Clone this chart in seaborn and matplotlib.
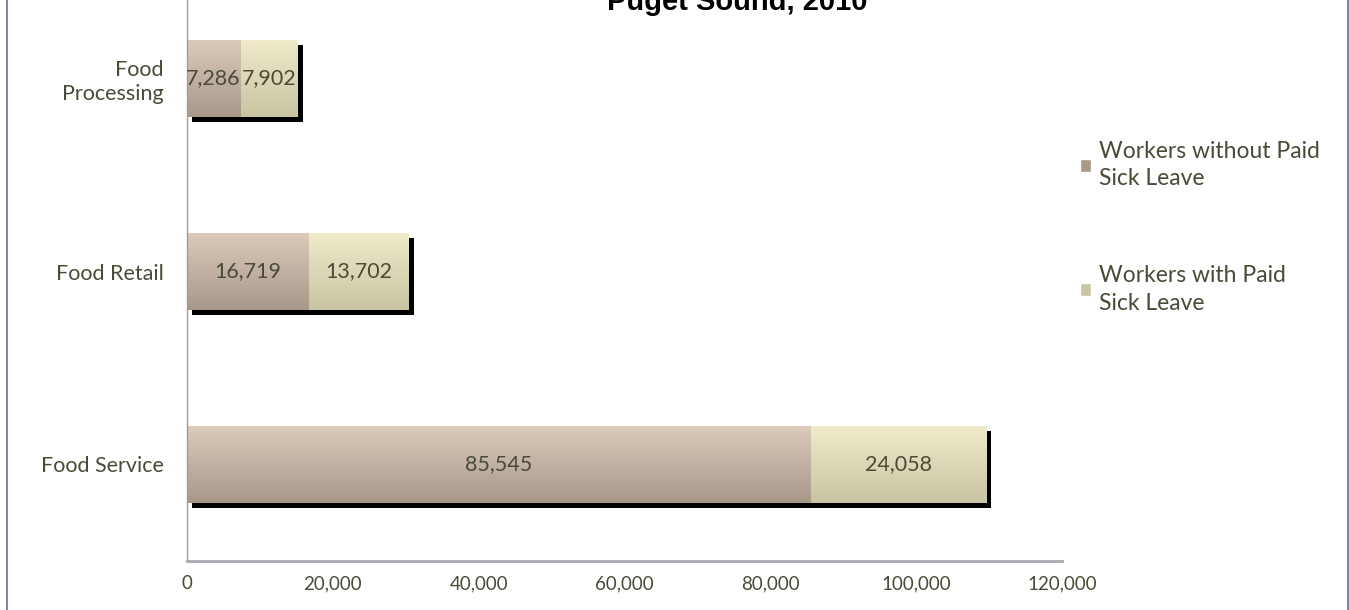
"""Food workers with and without paid sick leave, Puget Sound 2010."""

import matplotlib.pyplot as plt
import matplotlib.patheffects as pe
import numpy as np
import pandas as pd
import seaborn as sns
from matplotlib.colors import to_rgb
from matplotlib.lines import Line2D
from matplotlib.patches import Patch

industries = ["Food Processing", "Food Retail", "Food Service"]
tick_names = ["Food\nProcessing", "Food Retail", "Food Service"]
without_paid = [7286, 16719, 85545]
with_paid = [7902, 13702, 24058]
x_ticks = [0, 20000, 40000, 60000, 80000, 100000, 120000]
title = "Puget Sound, 2010"
series_names = ["Workers without Paid\nSick Leave", "Workers with Paid\nSick Leave"]

TEXT = "#4b4a36"
AXIS = "#9a9aa8"
WITHOUT_TOP, WITHOUT_BOT = "#dccbbb", "#a8988a"
WITH_TOP, WITH_BOT = "#efebcb", "#c9c4a2"

sns.set_style("white")
plt.rcParams["font.family"] = ["Lato", "DejaVu Sans"]

df = pd.DataFrame({
    "industry": industries,
    "without": without_paid,
    "total": np.add(without_paid, with_paid),
})

fig = plt.figure(figsize=(13.49, 6.10), dpi=100)
ax = fig.add_axes([187 / 1349, 1 - 561 / 610, (1062 - 187) / 1349, 579 / 610])

shadow = [pe.SimplePatchShadow(offset=(3.6, -3.6), shadow_rgbFace="black", alpha=1.0), pe.Normal()]

sns.barplot(data=df, y="industry", x="total", orient="h", width=0.4,
            color=WITH_TOP, linewidth=0, ax=ax)
n_total = len(ax.patches)
sns.barplot(data=df, y="industry", x="without", orient="h", width=0.4,
            color=WITHOUT_TOP, linewidth=0, ax=ax)


def gradient_fill(patch, top, bottom, z):
    x0, y0 = patch.get_x(), patch.get_y()
    w, h = patch.get_width(), patch.get_height()
    c = np.linspace(to_rgb(top), to_rgb(bottom), 64)[:, None, :]
    im = ax.imshow(c, extent=(x0, x0 + w, y0 + h, y0), origin="upper",
                   aspect="auto", zorder=z, interpolation="bilinear")
    im.set_clip_path(patch)


for i, p in enumerate(ax.patches):
    if i < n_total:
        p.set_path_effects(shadow)
        p.set_zorder(1)
        gradient_fill(p, WITH_TOP, WITH_BOT, 1.5)
    else:
        p.set_zorder(2)
        gradient_fill(p, WITHOUT_TOP, WITHOUT_BOT, 2.5)

for i, (a, b) in enumerate(zip(without_paid, with_paid)):
    ax.text(a / 2, i, f"{a:,}", ha="center", va="center", fontsize=15.5, color=TEXT, zorder=5)
    ax.text(a + b / 2, i, f"{b:,}", ha="center", va="center", fontsize=15.5, color=TEXT, zorder=5)

ax.set_xlim(0, 120000)
ax.set_ylim(2.5, -0.5)
ax.set_xticks(x_ticks)
ax.set_xticklabels([f"{v:,}" for v in x_ticks], fontsize=13.5, color=TEXT)
ax.set_yticks(range(len(industries)))
ax.set_yticklabels(tick_names, fontsize=15.5, color=TEXT, linespacing=1.25)
ax.set_yticks([0.5, 1.5], minor=True)
ax.tick_params(axis="y", which="major", length=0, pad=17)
ax.tick_params(axis="y", which="minor", length=7, color=AXIS, width=1)
ax.tick_params(axis="x", length=6, color=AXIS, width=1, pad=4)
ax.set_xlabel("")
ax.set_ylabel("")
for s in ["top", "right"]:
    ax.spines[s].set_visible(False)
ax.spines["left"].set_color(AXIS)
ax.spines["left"].set_linewidth(1)
ax.spines["bottom"].set_color("#a8a8b4")
ax.spines["bottom"].set_linewidth(2)
ax.patch.set_alpha(0)

handles = [Patch(facecolor=WITHOUT_BOT), Patch(facecolor=WITH_BOT)]
leg = fig.legend(handles, series_names, loc="upper left",
                 bbox_to_anchor=(1059 / 1349, 1 - 120 / 610),
                 frameon=False, fontsize=16.5, labelcolor=TEXT, handlelength=0.5,
                 handleheight=0.5, handletextpad=0.35, labelspacing=3.3)
for t in leg.get_texts():
    t.set_linespacing(1.4)

fig.text(737 / 1349, 1 - 10 / 610, title, ha="center", va="baseline", fontsize=21,
         fontweight="bold", color="black", family=["Liberation Sans", "DejaVu Sans"])

for xf in (7 / 1349, 1347.5 / 1349):
    fig.add_artist(Line2D([xf, xf], [0, 1], color="#6b6b85", linewidth=1.2))

fig.savefig("out.png", dpi=100)
